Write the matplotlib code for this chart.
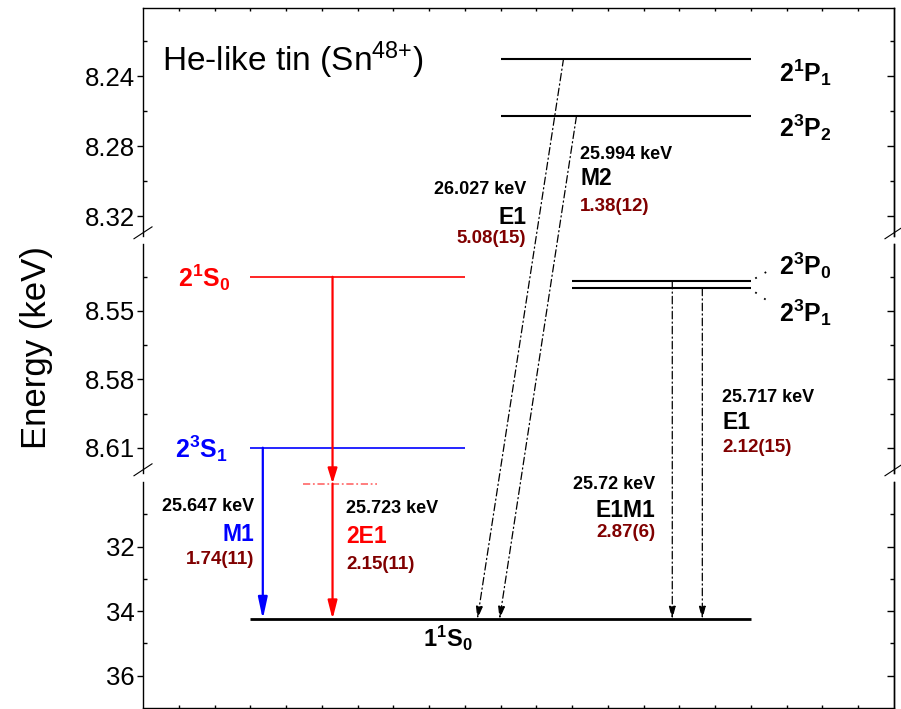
import matplotlib
matplotlib.use('Agg')
import matplotlib.pyplot as plt
from matplotlib.patches import ConnectionPatch

plt.rcParams['font.family'] = 'Liberation Sans'
plt.rcParams['mathtext.fontset'] = 'custom'
plt.rcParams['mathtext.rm'] = 'Liberation Sans'
plt.rcParams['mathtext.bf'] = 'Liberation Sans:bold'
plt.rcParams['mathtext.it'] = 'Liberation Sans:italic'

# level energies (keV)
state_names = ['2^1P_1', '2^3P_2', '2^3P_0', '2^3P_1', '2^1S_0', '2^3S_1', '1^1S_0']
state_energy = [8.230, 8.263, 8.537, 8.540, 8.535, 8.610, 34.25]

# decays to the ground state
tr_upper = ['2^3S_1', '2^1S_0', '2^1P_1', '2^3P_2', '2^3P_0', '2^3P_1']
tr_energy = ['25.647 keV', '25.723 keV', '26.027 keV', '25.994 keV', '25.72 keV', '25.717 keV']
tr_type = ['M1', '2E1', 'E1', 'M2', 'E1M1', 'E1']
tr_rate = ['1.74(11)', '2.15(11)', '5.08(15)', '1.38(12)', '2.87(6)', '2.12(15)']
virtual_level = 30.05   # intermediate step of the 2E1 decay

# broken y axis: three segments
seg_lims = [(8.3314, 8.2011), (8.6211, 8.5206), (37.0, 30.0)]
seg_major = [[8.24, 8.28, 8.32], [8.55, 8.58, 8.61], [32, 34, 36]]
seg_minor = [[8.22, 8.26, 8.30], [8.535, 8.565, 8.595], [31, 33, 35]]
seg_labels = [['8.24', '8.28', '8.32'], ['8.55', '8.58', '8.61'], ['32', '34', '36']]

E = dict(zip(state_names, state_energy))
ground = '1^1S_0'

# ---- layout / style ----
level_style = {
    # name: (x0, x1, color, lw, label x, label y, ha, fontsize)
    '2^1P_1': (10, 17, 'black', 1.5, 17.79, 8.2434, 'left', 18),
    '2^3P_2': (10, 17, 'black', 1.5, 17.79, 8.2749, 'left', 18),
    '2^3P_0': (12, 17, 'black', 1.5, 17.79, 8.5342, 'left', 18),
    '2^3P_1': (12, 17, 'black', 1.5, 17.79, 8.5548, 'left', 18),
    '2^1S_0': (3, 9, 'red', 1.2, 2.44, 8.5395, 'right', 18),
    '2^3S_1': (3, 9, 'blue', 1.2, 2.38, 8.6145, 'right', 18),
    '1^1S_0': (3, 17, 'black', 2.0, 8.52, 35.12, 'center', 17),
}
dashdot = (0, (6, 2.5, 1, 2.5))
tr_style = {
    # upper: (x start, x end, color, linestyle, lw, type color)
    '2^3S_1': (3.35, 3.35, 'blue', '-', 1.6, 'blue'),
    '2^1S_0': (5.30, 5.30, 'red', '-', 1.6, 'red'),
    '2^1P_1': (11.76, 9.35, 'black', dashdot, 0.9, 'black'),
    '2^3P_2': (12.12, 9.97, 'black', dashdot, 0.9, 'black'),
    '2^3P_0': (14.80, 14.80, 'black', dashdot, 0.9, 'black'),
    '2^3P_1': (15.64, 15.64, 'black', dashdot, 0.9, 'black'),
}
# text anchor (x, y of energy line, y of type, y of rate, ha)
tr_text = {
    '2^3S_1': (3.10, 30.77, 31.64, 32.41, 'right'),
    '2^1S_0': (5.69, 30.83, 31.70, 32.57, 'left'),
    '2^1P_1': (10.72, 8.3051, 8.3206, 8.3331, 'right'),
    '2^3P_2': (12.22, 8.2846, 8.2983, 8.3143, 'left'),
    '2^3P_0': (14.33, 30.07, 30.89, 31.56, 'right'),
    '2^3P_1': (16.20, 8.5878, 8.5988, 8.6098, 'left'),
}
rate_color = '#800000'

W, H = 901, 709
fig = plt.figure(figsize=(W / 100, H / 100), dpi=100)
left, right = 143 / W, 894 / W
rows = [(8, 236), (244, 473), (482, 708)]
axes = []
for (t, b), lim, maj, mnr, lab in zip(rows, seg_lims, seg_major, seg_minor, seg_labels):
    ax = fig.add_axes([left, 1 - b / H, right - left, (b - t) / H])
    ax.patch.set_visible(False)
    ax.set_xlim(0, 21)
    ax.set_ylim(*lim)
    ax.set_yticks(maj)
    ax.set_yticklabels(lab, fontsize=18.5)
    ax.set_yticks(mnr, minor=True)
    ax.tick_params(axis='y', which='major', direction='out', length=4.5, width=1, pad=1.5, right=False)
    ax.tick_params(axis='y', which='minor', direction='in', length=3, width=1, right=False)
    sec = ax.secondary_yaxis('right')
    sec.set_yticks(maj)
    sec.set_yticks(mnr, minor=True)
    sec.tick_params(which='major', direction='in', length=5, width=1, labelright=False)
    sec.tick_params(which='minor', direction='in', length=3, width=1)
    sec.spines['right'].set_linewidth(1.0)
    ax.set_xticks(range(1, 21))
    ax.tick_params(axis='x', which='both', bottom=False, top=False,
                   labelbottom=False, labeltop=False, direction='in', length=2.5, width=1)
    for s in ax.spines.values():
        s.set_linewidth(1.0)
    axes.append(ax)

ax_top, ax_mid, ax_bot = axes
ax_top.spines['bottom'].set_visible(False)
ax_top.tick_params(axis='x', top=True)
ax_mid.spines['top'].set_visible(False)
ax_mid.spines['bottom'].set_visible(False)
ax_bot.spines['top'].set_visible(False)
ax_bot.tick_params(axis='x', bottom=True)


def seg_ax(e):
    if e < 8.4:
        return ax_top
    if e < 9:
        return ax_mid
    return ax_bot


# break marks on both spines
for ax in (ax_top, ax_mid):
    for x0 in (0, 1):
        ax.plot([x0 - 0.012, x0 + 0.012], [-0.012, 0.04], color='black', lw=0.8,
                transform=ax.transAxes, clip_on=False)

# levels and their labels
for name in state_names:
    x0, x1, c, lw, lx, ly, ha, fs = level_style[name]
    ax = seg_ax(E[name])
    ax.plot([x0, x1], [E[name], E[name]], color=c, lw=lw, solid_capstyle='butt')
    ax.text(lx, ly, '$\\mathbf{%s}$' % name, color=c, fontsize=fs, ha=ha, va='baseline')

# dotted pointers for the close 2^3P_0 / 2^3P_1 pair
ax_mid.plot([17.12, 17.55], [8.5357, 8.5318], color='black', lw=1.3, ls=(0, (1, 5)))
ax_mid.plot([17.12, 17.55], [8.5418, 8.5465], color='black', lw=1.3, ls=(0, (1, 5)))

# virtual level of the two-photon decay
ax_bot.plot([4.47, 6.53], [virtual_level, virtual_level], color='red', alpha=0.55,
            lw=1.3, ls=(0, (4, 1.5, 1, 1.5)))


def arrow(axA, pA, axB, pB, color, ls, lw, hl, hw):
    cp = ConnectionPatch(xyA=pA, coordsA='data', axesA=axA, xyB=pB, coordsB='data', axesB=axB,
                         arrowstyle='-|>,head_length=%g,head_width=%g' % (hl, hw),
                         mutation_scale=10, color=color, lw=lw, linestyle=ls)
    fig.add_artist(cp)


for up, en, ty, rt in zip(tr_upper, tr_energy, tr_type, tr_rate):
    xs, xe, c, ls, lw, tc = tr_style[up]
    e0, e1 = E[up], E[ground]
    if ty == '2E1':
        arrow(seg_ax(e0), (xs, e0), ax_bot, (xs, virtual_level), c, ls, lw, 0.9, 0.28)
        arrow(ax_bot, (xs, virtual_level), ax_bot, (xe, e1), c, ls, lw, 1.1, 0.28)
    elif c == 'black':
        arrow(seg_ax(e0), (xs, e0), ax_bot, (xe, e1), c, ls, lw, 0.75, 0.2)
    else:
        arrow(seg_ax(e0), (xs, e0), ax_bot, (xe, e1), c, ls, lw, 1.3, 0.28)
    tx, y1, y2, y3, ha = tr_text[up]
    ax = seg_ax(y1)
    ax.text(tx, y1, en, fontsize=13, fontweight='bold', ha=ha, va='center')
    ax.text(tx, y2, ty, fontsize=16.5, fontweight='bold', color=tc, ha=ha, va='center')
    ax.text(tx, y3, rt, fontsize=13.5, fontweight='bold', color=rate_color, ha=ha, va='center')

ax_top.text(0.53, 8.2371, 'He-like tin (Sn$^{48{+}}$)', fontsize=24, ha='left', va='baseline')
fig.text(37 / W, 1 - 348 / H, 'Energy (keV)', fontsize=25, rotation=90, ha='center', va='center')

fig.savefig('out.png', dpi=100)
